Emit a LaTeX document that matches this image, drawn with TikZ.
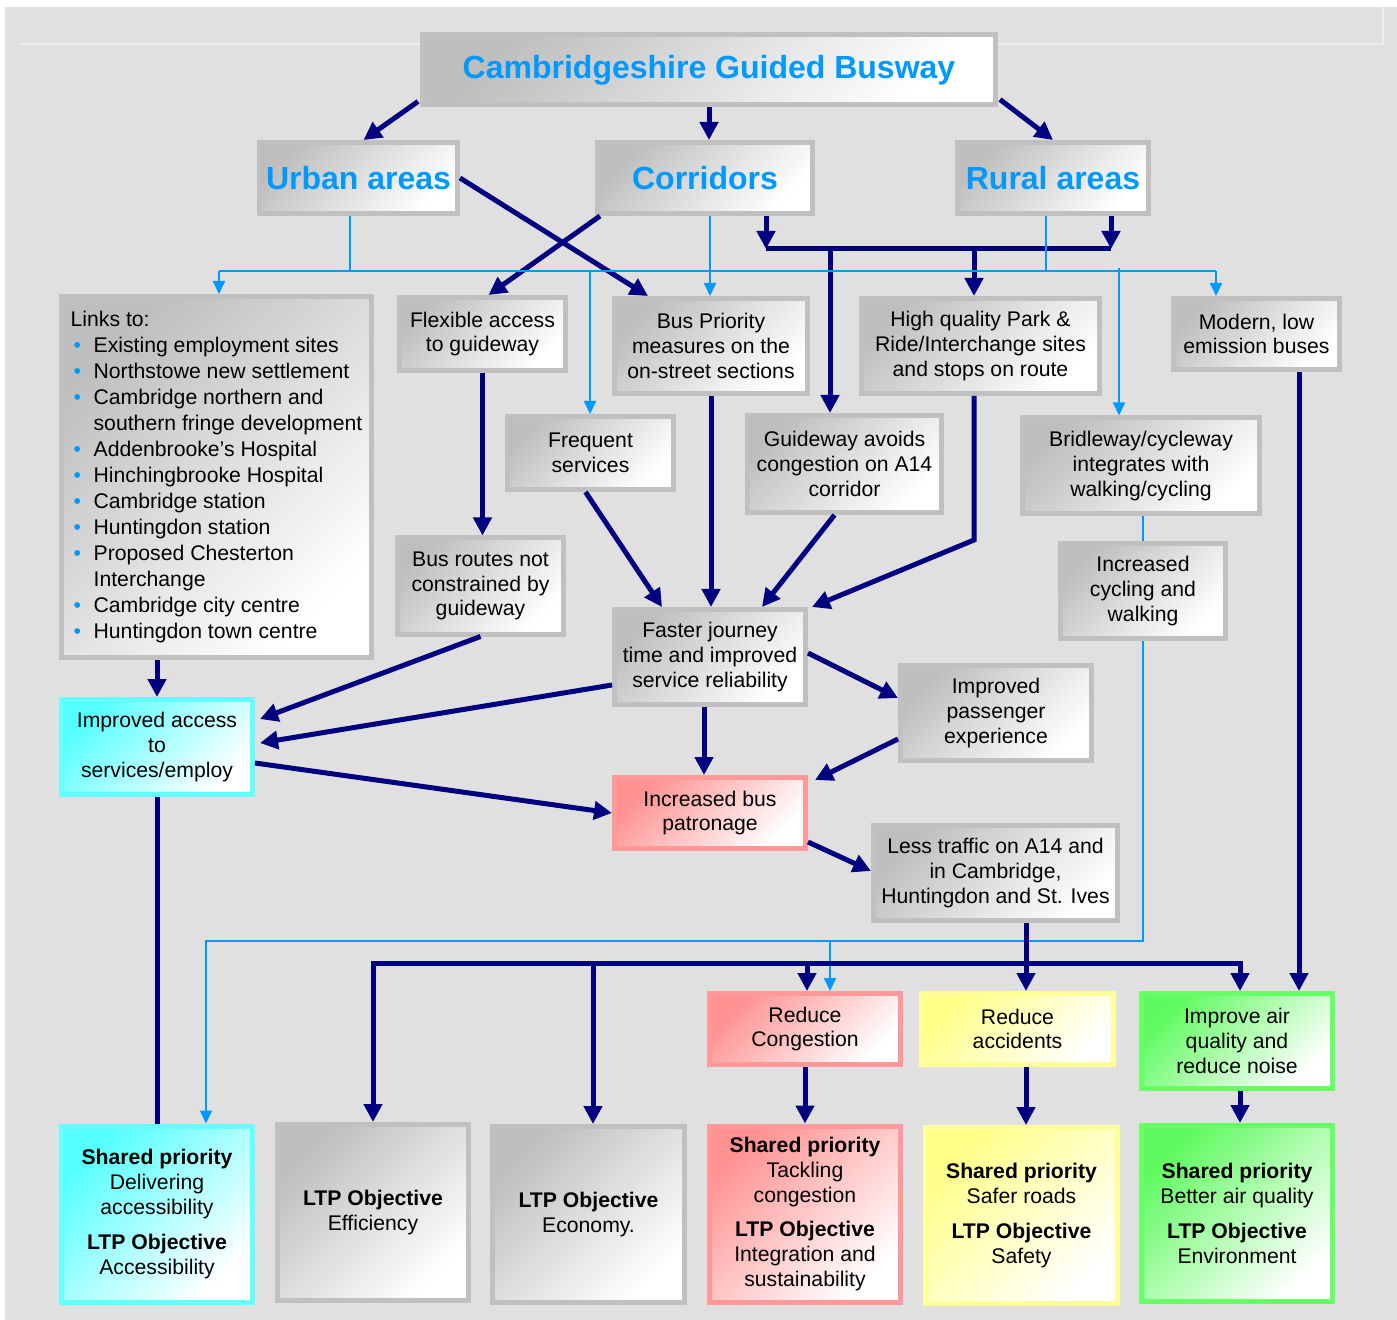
\documentclass[tikz,border=0pt]{standalone}
\usepackage{fontspec}
\setmainfont{Liberation Sans}
\usetikzlibrary{calc,arrows.meta}
\definecolor{navy}{RGB}{0,0,128}
\definecolor{lblue}{RGB}{0,153,255}
\definecolor{bgc}{RGB}{224,224,224}
\definecolor{greyline}{RGB}{192,192,192}
\definecolor{greyfill}{RGB}{190,190,190}
\definecolor{pinkline}{RGB}{255,153,153}
\definecolor{pinkfill}{RGB}{255,145,145}
\definecolor{cyanline}{RGB}{102,255,255}
\definecolor{cyanfill}{RGB}{85,255,255}
\definecolor{yelline}{RGB}{255,255,153}
\definecolor{yelfill}{RGB}{255,255,135}
\definecolor{grnline}{RGB}{102,255,102}
\definecolor{grnfill}{RGB}{95,250,95}
\newcommand{\blt}{\makebox[11.5pt][l]{\hspace{1.5pt}\textcolor{lblue}{\textbullet}}}
\tikzset{
box/.style 2 args={draw=#1, line width=2.5pt, left color=#2, right color=white, shading angle=45,
  align=center, inner sep=1pt, font=\fontsize{10.6}{12.4}\selectfont},
gbox/.style={box={greyline}{greyfill}},
pbox/.style={box={pinkline}{pinkfill}},
cbox/.style={box={cyanline}{cyanfill}},
ybox/.style={box={yelline}{yelfill}},
grbox/.style={box={grnline}{grnfill}},
head/.style={gbox, font=\fontsize{16}{19}\selectfont\bfseries, text=lblue},
dk/.style={draw=navy, line width=2.5pt, -{Triangle[length=9pt,width=9pt]}},
dkline/.style={draw=navy, line width=2.5pt},
lb/.style={draw=lblue, line width=1pt, -{Triangle[length=6.5pt,width=6pt]}},
lbline/.style={draw=lblue, line width=1pt},
}
\begin{document}
\begin{tikzpicture}[x=0.5pt,y=-0.5pt]
\useasboundingbox (0,0) rectangle (1397,1320);
\fill[bgc] (5,7) rectangle (1397,1320);
\draw[white!45!bgc, line width=0.6pt] (20,44) -- (1383,44) -- (1383,7);

\node[head, minimum width=286.5pt, minimum height=35pt] (CGB) at (709,70) {Cambridgeshire Guided Busway};
\node[head, minimum width=99pt, minimum height=35.5pt] (UA) at (358.5,178) {Urban areas};
\node[head, minimum width=107.5pt, minimum height=35.5pt] (CO) at (705,178) {Corridors};
\node[head, minimum width=95.5pt, minimum height=35.5pt] (RA) at (1053,178) {Rural areas};

\node[gbox, align=left, minimum width=155pt, minimum height=180.5pt, font=\fontsize{10.6}{13}\selectfont] (LNK) at (216.5,477) {Links to:\\
\blt Existing employment sites\\
\blt Northstowe new settlement\\
\blt Cambridge northern and\\
\hspace*{11.5pt}southern fringe development\\
\blt Addenbrooke’s Hospital\\
\blt Hinchingbrooke Hospital\\
\blt Cambridge station\\
\blt Huntingdon station\\
\blt Proposed Chesterton\\
\hspace*{11.5pt}Interchange\\
\blt Cambridge city centre\\
\blt Huntingdon town centre};
\node[gbox, minimum width=83pt, minimum height=36.5pt] (FA) at (482.5,334) {Flexible access\\to guideway};
\node[gbox, minimum width=96.5pt, minimum height=47.5pt] (BP) at (711,346) {Bus Priority\\measures on the\\on-street sections};
\node[gbox, minimum width=119pt, minimum height=47.5pt] (HQ) at (980.5,346) {High quality Park \&\\Ride/Interchange sites\\and stops on route};
\node[gbox, minimum width=83pt, minimum height=35.5pt] (ML) at (1256.5,334) {Modern, low\\emission buses};
\node[gbox, minimum width=83pt, minimum height=36.5pt] (FS) at (590.5,453) {Frequent\\services};
\node[gbox, minimum width=97pt, minimum height=48.5pt] (GA) at (844.5,464) {Guideway avoids\\congestion on A14\\corridor};
\node[gbox, minimum width=118.5pt, minimum height=48pt] (BC) at (1141,466) {Bridleway/cycleway\\integrates with\\walking/cycling};
\node[gbox, minimum width=83pt, minimum height=48pt] (BR) at (480.5,586) {Bus routes not\\constrained by\\guideway};
\node[gbox, minimum width=82.5pt, minimum height=47.5pt] (IC) at (1143,591) {Increased\\cycling and\\walking};
\node[gbox, minimum width=95.5pt, minimum height=47.5pt] (FJ) at (710,657) {Faster journey\\time and improved\\service reliability};
\node[cbox, minimum width=95.5pt, minimum height=47.5pt] (IA) at (157,747) {Improved access\\to\\services/employ};
\node[gbox, minimum width=95.5pt, minimum height=47.5pt] (IP) at (996,713) {Improved\\passenger\\experience};
\node[pbox, minimum width=95.5pt, minimum height=35.5pt] (IB) at (710,813) {Increased bus\\patronage};
\node[gbox, minimum width=122pt, minimum height=47.5pt] (LT) at (995.5,873) {Less traffic on A14 and\\in Cambridge,\\Huntingdon and St. Ives};
\node[pbox, minimum width=95.5pt, minimum height=35.5pt] (RC) at (805,1029) {Reduce\\Congestion};
\node[ybox, minimum width=96pt, minimum height=35.5pt] (RX) at (1017.5,1029) {Reduce\\accidents};
\node[grbox, minimum width=95.5pt, minimum height=47.5pt] (IQ) at (1237,1041) {Improve air\\quality and\\reduce noise};

\node[cbox, minimum width=95.5pt, minimum height=88pt] (SPA) at (157,1214) {\textbf{Shared priority}\\Delivering\\accessibility\\[5pt]\textbf{LTP Objective}\\Accessibility};
\node[gbox, minimum width=95.5pt, minimum height=88pt] (LTE) at (373,1212.5) {\textbf{LTP Objective}\\Efficiency};
\node[gbox, minimum width=96pt, minimum height=88pt] (LTC) at (588.5,1214.5) {\textbf{LTP Objective}\\Economy.};
\node[pbox, minimum width=95.5pt, minimum height=88pt] (SPT) at (805,1214) {\textbf{Shared priority}\\Tackling\\congestion\\[5pt]\textbf{LTP Objective}\\Integration and\\sustainability};
\node[ybox, minimum width=96pt, minimum height=88pt] (SPS) at (1021.5,1215.5) {\textbf{Shared priority}\\Safer roads\\[5pt]\textbf{LTP Objective}\\Safety};
\node[grbox, minimum width=95.5pt, minimum height=88pt] (SPB) at (1237,1213.5) {\textbf{Shared priority}\\Better air quality\\[5pt]\textbf{LTP Objective}\\Environment};

\coordinate (J1) at (766,249);
\coordinate (J2) at (1111,249);
\coordinate (J3) at (830,249);
\coordinate (J4) at (974,249);
\coordinate (H1) at (974,540);
\coordinate (M1) at (1299,371);
\coordinate (F1) at (704,706);
\coordinate (L1) at (219,271);
\coordinate (L2) at (1216,271);
\coordinate (L3) at (350,271);
\coordinate (L4) at (590,271);
\coordinate (L5) at (710,271);
\coordinate (L6) at (1046,271);
\coordinate (L7) at (1119,268);
\coordinate (C2) at (206,941);
\coordinate (C3) at (830,941);
\coordinate (B1) at (373,963);
\coordinate (B2) at (1240,963);
\coordinate (B3) at (593,963);
\coordinate (B4) at (807,963);
\coordinate (B5) at (1026,963);

\draw[dk] ($(CGB.south west)+(-2,-6)$) -- ($(UA.north)+(5,0)$);
\draw[dk] (CGB.south) -- (CGB.south |- CO.north);
\draw[dk] ($(CGB.south east)+(2,-8)$) -- (RA.north);
\draw[dk] (UA.east) -- ($(BP.north west)+(36,0)$);
\draw[dk] ($(CO.south west)+(5,0)$) -- ($(FA.north)+(6,0)$);
\draw[dk] (CO.south -| J1) -- (J1);
\draw[dk] (RA.south -| J2) -- (J2);
\draw[dkline] (J1) -- (J2);
\draw[dk] (J3) -- (J3 |- GA.north);
\draw[dk] (J4) -- (J4 |- HQ.north);

\draw[lbline] (UA.south -| L3) -- (L3);
\draw[lbline] (L1) -- (L2);
\draw[lbline] (RA.south -| L6) -- (L6);
\draw[lb] (L1) -- (L1 |- LNK.north);
\draw[lb] (L4) -- (L4 |- FS.north);
\draw[lb] (CO.south -| L5) -- (L5 |- BP.north);
\draw[lb] (L7) -- (L7 |- BC.north);
\draw[lb] (L2) -- (L2 |- ML.north);

\draw[dk] (FA.south) -- (FA.south |- BR.north);
\draw[dk] (BP.south) -- (BP.south |- FJ.north);
\draw[dk] ($(FS.south)+(-5,0)$) -- ($(FJ.north west)+(50,0)$);
\draw[dk] ($(GA.south)+(-10,0)$) -- ($(FJ.north east)+(-46,0)$);
\draw[dk] (HQ.south -| H1) -- (H1) -- ($(FJ.north east)+(4,0)$);
\draw[dk] (ML.south -| M1) -- (M1 |- IQ.north);

\draw[dk] (IA.north |- LNK.south) -- (IA.north);
\draw[dk] (BR.south) -- ($(IA.east)+(5,-28)$);
\draw[dk] ($(FJ.west)+(0,28)$) -- ($(IA.east)+(5,-4)$);
\draw[dk] ($(IA.east)+(0,16)$) -- (IB.west);
\draw[dk] (FJ.south -| F1) -- (F1 |- IB.north);
\draw[dk] ($(FJ.east)+(0,-4)$) -- ($(IP.west)+(0,-15)$);
\draw[dk] ($(IP.west)+(0,26)$) -- ($(IB.north east)+(7,5)$);
\draw[dk] ($(IB.east)+(0,29)$) -- ($(LT.west)+(0,-2)$);
\draw[dkline] (IA.south) -- (SPA.north);

\draw[lbline] (IC.north |- BC.south) -- (IC.north);
\draw[lb] (IC.south) |- (C2) -- (C2 |- SPA.north);
\draw[lb] (C3) -- (C3 |- RC.north);

\draw[dk] (LT.south -| B5) -- (B5 |- RX.north);
\draw[dk] (B2) -- (B1) -- (B1 |- LTE.north);
\draw[dk] (B1) -- (B2) -- (B2 |- IQ.north);
\draw[dk] (B3) -- (B3 |- LTC.north);
\draw[dk] (B4) -- (B4 |- RC.north);

\draw[dk] (RC.south) -- (RC.south |- SPT.north);
\draw[dk] (RX.south -| B5) -- (B5 |- SPS.north);
\draw[dk] (IQ.south -| B2) -- (B2 |- SPB.north);
\end{tikzpicture}
\end{document}
